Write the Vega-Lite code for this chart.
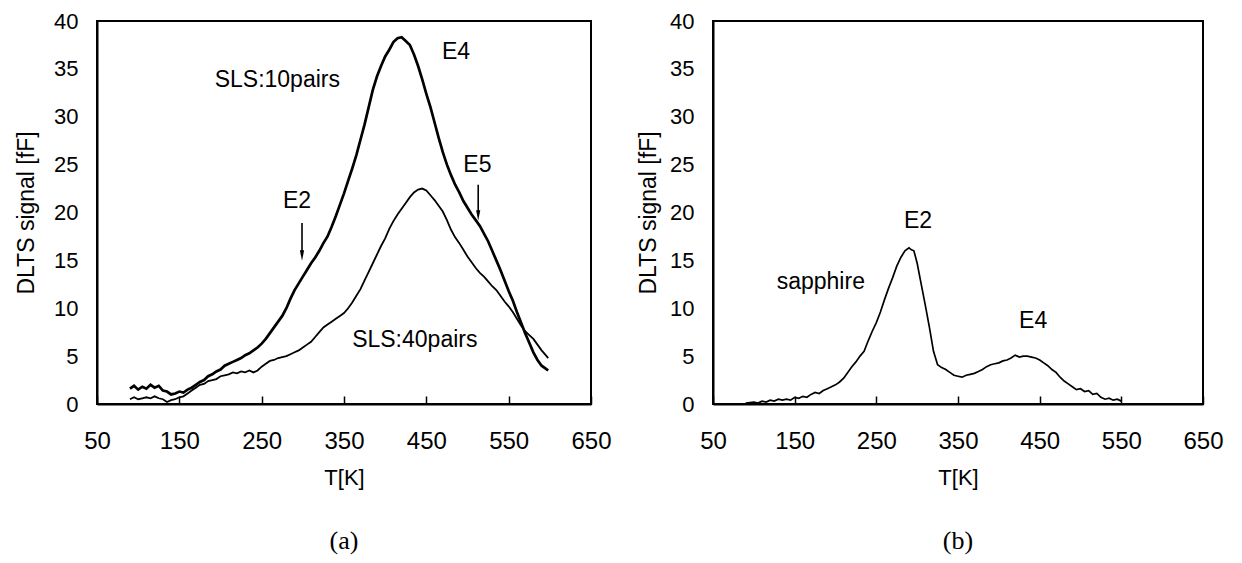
{
  "$schema": "https://vega.github.io/schema/vega-lite/v6.json",
  "background": "white",
  "padding": {"left": 14, "top": 9, "right": 10, "bottom": 5},
  "config": {
    "font": "Liberation Sans",
    "view": {"stroke": "black", "strokeWidth": 2},
    "axis": {"domainColor": "black", "domainWidth": 2, "labelColor": "black", "titleColor": "black", "titleFontWeight": "normal", "grid": false},
    "concat": {"spacing": 23}
  },
  "datasets": {
    "left": [
      {"T": 90, "v": 1.6, "s": "10pairs"}, {"T": 95, "v": 1.9, "s": "10pairs"}, {"T": 100, "v": 1.5, "s": "10pairs"}, {"T": 105, "v": 1.8, "s": "10pairs"}, {"T": 110, "v": 1.6, "s": "10pairs"}, {"T": 115, "v": 2.0, "s": "10pairs"}, {"T": 120, "v": 1.7, "s": "10pairs"}, {"T": 125, "v": 1.9, "s": "10pairs"}, {"T": 130, "v": 1.4, "s": "10pairs"}, {"T": 135, "v": 1.3, "s": "10pairs"}, {"T": 140, "v": 1.0, "s": "10pairs"}, {"T": 145, "v": 1.1, "s": "10pairs"}, {"T": 150, "v": 1.3, "s": "10pairs"}, {"T": 155, "v": 1.2, "s": "10pairs"}, {"T": 160, "v": 1.5, "s": "10pairs"}, {"T": 165, "v": 1.7, "s": "10pairs"}, {"T": 170, "v": 2.0, "s": "10pairs"}, {"T": 175, "v": 2.3, "s": "10pairs"}, {"T": 180, "v": 2.5, "s": "10pairs"}, {"T": 185, "v": 2.9, "s": "10pairs"}, {"T": 190, "v": 3.1, "s": "10pairs"}, {"T": 195, "v": 3.4, "s": "10pairs"}, {"T": 200, "v": 3.6, "s": "10pairs"}, {"T": 205, "v": 4.0, "s": "10pairs"}, {"T": 210, "v": 4.2, "s": "10pairs"}, {"T": 215, "v": 4.4, "s": "10pairs"}, {"T": 220, "v": 4.6, "s": "10pairs"}, {"T": 225, "v": 4.8, "s": "10pairs"}, {"T": 230, "v": 5.1, "s": "10pairs"}, {"T": 235, "v": 5.3, "s": "10pairs"}, {"T": 240, "v": 5.6, "s": "10pairs"}, {"T": 245, "v": 5.9, "s": "10pairs"}, {"T": 250, "v": 6.3, "s": "10pairs"}, {"T": 255, "v": 6.8, "s": "10pairs"}, {"T": 260, "v": 7.4, "s": "10pairs"}, {"T": 265, "v": 8.0, "s": "10pairs"}, {"T": 270, "v": 8.6, "s": "10pairs"}, {"T": 275, "v": 9.2, "s": "10pairs"}, {"T": 280, "v": 10.0, "s": "10pairs"}, {"T": 285, "v": 11.0, "s": "10pairs"}, {"T": 290, "v": 11.9, "s": "10pairs"}, {"T": 295, "v": 12.6, "s": "10pairs"}, {"T": 300, "v": 13.3, "s": "10pairs"}, {"T": 305, "v": 14.0, "s": "10pairs"}, {"T": 310, "v": 14.7, "s": "10pairs"}, {"T": 315, "v": 15.3, "s": "10pairs"}, {"T": 320, "v": 16.0, "s": "10pairs"}, {"T": 325, "v": 16.8, "s": "10pairs"}, {"T": 330, "v": 17.5, "s": "10pairs"}, {"T": 335, "v": 18.5, "s": "10pairs"}, {"T": 340, "v": 19.6, "s": "10pairs"}, {"T": 345, "v": 20.8, "s": "10pairs"}, {"T": 350, "v": 22.0, "s": "10pairs"}, {"T": 355, "v": 23.3, "s": "10pairs"}, {"T": 360, "v": 24.6, "s": "10pairs"}, {"T": 365, "v": 26.0, "s": "10pairs"}, {"T": 370, "v": 27.6, "s": "10pairs"}, {"T": 375, "v": 29.2, "s": "10pairs"}, {"T": 380, "v": 31.0, "s": "10pairs"}, {"T": 385, "v": 32.8, "s": "10pairs"}, {"T": 390, "v": 34.2, "s": "10pairs"}, {"T": 395, "v": 35.3, "s": "10pairs"}, {"T": 400, "v": 36.3, "s": "10pairs"}, {"T": 405, "v": 37.0, "s": "10pairs"}, {"T": 410, "v": 37.8, "s": "10pairs"}, {"T": 415, "v": 38.2, "s": "10pairs"}, {"T": 420, "v": 38.3, "s": "10pairs"}, {"T": 425, "v": 37.9, "s": "10pairs"}, {"T": 430, "v": 37.5, "s": "10pairs"}, {"T": 435, "v": 36.5, "s": "10pairs"}, {"T": 440, "v": 35.3, "s": "10pairs"}, {"T": 445, "v": 33.9, "s": "10pairs"}, {"T": 450, "v": 32.4, "s": "10pairs"}, {"T": 455, "v": 31.0, "s": "10pairs"}, {"T": 460, "v": 29.4, "s": "10pairs"}, {"T": 465, "v": 27.8, "s": "10pairs"}, {"T": 470, "v": 26.3, "s": "10pairs"}, {"T": 475, "v": 25.0, "s": "10pairs"}, {"T": 480, "v": 23.9, "s": "10pairs"}, {"T": 485, "v": 22.9, "s": "10pairs"}, {"T": 490, "v": 22.1, "s": "10pairs"}, {"T": 495, "v": 21.2, "s": "10pairs"}, {"T": 500, "v": 20.5, "s": "10pairs"}, {"T": 505, "v": 19.8, "s": "10pairs"}, {"T": 510, "v": 19.2, "s": "10pairs"}, {"T": 515, "v": 18.6, "s": "10pairs"}, {"T": 520, "v": 17.8, "s": "10pairs"}, {"T": 525, "v": 17.0, "s": "10pairs"}, {"T": 530, "v": 16.0, "s": "10pairs"}, {"T": 535, "v": 15.0, "s": "10pairs"}, {"T": 540, "v": 14.0, "s": "10pairs"}, {"T": 545, "v": 12.9, "s": "10pairs"}, {"T": 550, "v": 11.8, "s": "10pairs"}, {"T": 555, "v": 10.8, "s": "10pairs"}, {"T": 560, "v": 9.6, "s": "10pairs"}, {"T": 565, "v": 8.5, "s": "10pairs"}, {"T": 570, "v": 7.4, "s": "10pairs"}, {"T": 575, "v": 6.4, "s": "10pairs"}, {"T": 580, "v": 5.4, "s": "10pairs"}, {"T": 585, "v": 4.6, "s": "10pairs"}, {"T": 590, "v": 4.0, "s": "10pairs"}, {"T": 595, "v": 3.7, "s": "10pairs"}, {"T": 598, "v": 3.5, "s": "10pairs"},
      {"T": 90, "v": 0.5, "s": "40pairs"}, {"T": 95, "v": 0.7, "s": "40pairs"}, {"T": 100, "v": 0.5, "s": "40pairs"}, {"T": 105, "v": 0.6, "s": "40pairs"}, {"T": 110, "v": 0.7, "s": "40pairs"}, {"T": 115, "v": 0.6, "s": "40pairs"}, {"T": 120, "v": 0.8, "s": "40pairs"}, {"T": 125, "v": 0.6, "s": "40pairs"}, {"T": 130, "v": 0.5, "s": "40pairs"}, {"T": 135, "v": 0.2, "s": "40pairs"}, {"T": 140, "v": 0.4, "s": "40pairs"}, {"T": 145, "v": 0.5, "s": "40pairs"}, {"T": 150, "v": 0.7, "s": "40pairs"}, {"T": 155, "v": 0.8, "s": "40pairs"}, {"T": 160, "v": 1.1, "s": "40pairs"}, {"T": 165, "v": 1.4, "s": "40pairs"}, {"T": 170, "v": 1.7, "s": "40pairs"}, {"T": 175, "v": 2.0, "s": "40pairs"}, {"T": 180, "v": 2.1, "s": "40pairs"}, {"T": 185, "v": 2.4, "s": "40pairs"}, {"T": 190, "v": 2.5, "s": "40pairs"}, {"T": 195, "v": 2.6, "s": "40pairs"}, {"T": 200, "v": 2.9, "s": "40pairs"}, {"T": 205, "v": 3.0, "s": "40pairs"}, {"T": 210, "v": 3.1, "s": "40pairs"}, {"T": 215, "v": 3.3, "s": "40pairs"}, {"T": 220, "v": 3.2, "s": "40pairs"}, {"T": 225, "v": 3.4, "s": "40pairs"}, {"T": 230, "v": 3.3, "s": "40pairs"}, {"T": 235, "v": 3.5, "s": "40pairs"}, {"T": 240, "v": 3.3, "s": "40pairs"}, {"T": 245, "v": 3.5, "s": "40pairs"}, {"T": 250, "v": 3.9, "s": "40pairs"}, {"T": 255, "v": 4.2, "s": "40pairs"}, {"T": 260, "v": 4.5, "s": "40pairs"}, {"T": 265, "v": 4.6, "s": "40pairs"}, {"T": 270, "v": 4.8, "s": "40pairs"}, {"T": 275, "v": 4.9, "s": "40pairs"}, {"T": 280, "v": 5.0, "s": "40pairs"}, {"T": 285, "v": 5.2, "s": "40pairs"}, {"T": 290, "v": 5.4, "s": "40pairs"}, {"T": 295, "v": 5.6, "s": "40pairs"}, {"T": 300, "v": 5.9, "s": "40pairs"}, {"T": 305, "v": 6.2, "s": "40pairs"}, {"T": 310, "v": 6.5, "s": "40pairs"}, {"T": 315, "v": 7.0, "s": "40pairs"}, {"T": 320, "v": 7.5, "s": "40pairs"}, {"T": 325, "v": 8.0, "s": "40pairs"}, {"T": 330, "v": 8.3, "s": "40pairs"}, {"T": 335, "v": 8.6, "s": "40pairs"}, {"T": 340, "v": 8.9, "s": "40pairs"}, {"T": 345, "v": 9.2, "s": "40pairs"}, {"T": 350, "v": 9.5, "s": "40pairs"}, {"T": 355, "v": 10.0, "s": "40pairs"}, {"T": 360, "v": 10.6, "s": "40pairs"}, {"T": 365, "v": 11.3, "s": "40pairs"}, {"T": 370, "v": 12.0, "s": "40pairs"}, {"T": 375, "v": 12.9, "s": "40pairs"}, {"T": 380, "v": 13.8, "s": "40pairs"}, {"T": 385, "v": 14.7, "s": "40pairs"}, {"T": 390, "v": 15.6, "s": "40pairs"}, {"T": 395, "v": 16.5, "s": "40pairs"}, {"T": 400, "v": 17.3, "s": "40pairs"}, {"T": 405, "v": 18.3, "s": "40pairs"}, {"T": 410, "v": 19.1, "s": "40pairs"}, {"T": 415, "v": 19.8, "s": "40pairs"}, {"T": 420, "v": 20.4, "s": "40pairs"}, {"T": 425, "v": 21.0, "s": "40pairs"}, {"T": 430, "v": 21.6, "s": "40pairs"}, {"T": 435, "v": 22.1, "s": "40pairs"}, {"T": 440, "v": 22.4, "s": "40pairs"}, {"T": 445, "v": 22.5, "s": "40pairs"}, {"T": 450, "v": 22.3, "s": "40pairs"}, {"T": 455, "v": 21.8, "s": "40pairs"}, {"T": 460, "v": 21.3, "s": "40pairs"}, {"T": 465, "v": 20.7, "s": "40pairs"}, {"T": 470, "v": 20.1, "s": "40pairs"}, {"T": 475, "v": 19.2, "s": "40pairs"}, {"T": 480, "v": 18.2, "s": "40pairs"}, {"T": 485, "v": 17.4, "s": "40pairs"}, {"T": 490, "v": 16.8, "s": "40pairs"}, {"T": 495, "v": 16.1, "s": "40pairs"}, {"T": 500, "v": 15.4, "s": "40pairs"}, {"T": 505, "v": 14.8, "s": "40pairs"}, {"T": 510, "v": 14.2, "s": "40pairs"}, {"T": 515, "v": 13.7, "s": "40pairs"}, {"T": 520, "v": 13.3, "s": "40pairs"}, {"T": 525, "v": 12.8, "s": "40pairs"}, {"T": 530, "v": 12.3, "s": "40pairs"}, {"T": 535, "v": 11.9, "s": "40pairs"}, {"T": 540, "v": 11.3, "s": "40pairs"}, {"T": 545, "v": 10.7, "s": "40pairs"}, {"T": 550, "v": 10.2, "s": "40pairs"}, {"T": 555, "v": 9.6, "s": "40pairs"}, {"T": 560, "v": 8.9, "s": "40pairs"}, {"T": 565, "v": 8.2, "s": "40pairs"}, {"T": 570, "v": 7.6, "s": "40pairs"}, {"T": 575, "v": 7.2, "s": "40pairs"}, {"T": 580, "v": 6.8, "s": "40pairs"}, {"T": 585, "v": 6.2, "s": "40pairs"}, {"T": 590, "v": 5.6, "s": "40pairs"}, {"T": 595, "v": 5.1, "s": "40pairs"}, {"T": 598, "v": 4.8, "s": "40pairs"}
    ],
    "right": [
      {"T": 90, "v": 0.1}, {"T": 100, "v": 0.2}, {"T": 105, "v": 0.1}, {"T": 110, "v": 0.3}, {"T": 115, "v": 0.2}, {"T": 120, "v": 0.4}, {"T": 125, "v": 0.3}, {"T": 130, "v": 0.5}, {"T": 135, "v": 0.4}, {"T": 140, "v": 0.5}, {"T": 145, "v": 0.4}, {"T": 150, "v": 0.7}, {"T": 155, "v": 0.6}, {"T": 160, "v": 0.8}, {"T": 165, "v": 0.7}, {"T": 170, "v": 1.0}, {"T": 175, "v": 1.2}, {"T": 180, "v": 1.1}, {"T": 185, "v": 1.4}, {"T": 190, "v": 1.6}, {"T": 195, "v": 1.8}, {"T": 200, "v": 2.0}, {"T": 205, "v": 2.3}, {"T": 210, "v": 2.7}, {"T": 215, "v": 3.3}, {"T": 220, "v": 3.9}, {"T": 225, "v": 4.4}, {"T": 230, "v": 5.0}, {"T": 235, "v": 5.5}, {"T": 240, "v": 6.6}, {"T": 245, "v": 7.6}, {"T": 250, "v": 8.5}, {"T": 255, "v": 9.6}, {"T": 260, "v": 10.9}, {"T": 265, "v": 12.1}, {"T": 270, "v": 13.2}, {"T": 275, "v": 14.4}, {"T": 280, "v": 15.3}, {"T": 285, "v": 16.0}, {"T": 290, "v": 16.3}, {"T": 293, "v": 16.1}, {"T": 296, "v": 16.0}, {"T": 300, "v": 14.7}, {"T": 305, "v": 12.5}, {"T": 310, "v": 10.3}, {"T": 315, "v": 8.0}, {"T": 320, "v": 5.5}, {"T": 325, "v": 4.1}, {"T": 330, "v": 3.8}, {"T": 335, "v": 3.6}, {"T": 340, "v": 3.3}, {"T": 345, "v": 3.0}, {"T": 350, "v": 2.9}, {"T": 355, "v": 2.8}, {"T": 360, "v": 3.0}, {"T": 365, "v": 3.1}, {"T": 370, "v": 3.2}, {"T": 375, "v": 3.4}, {"T": 380, "v": 3.6}, {"T": 385, "v": 3.9}, {"T": 390, "v": 4.1}, {"T": 395, "v": 4.2}, {"T": 400, "v": 4.3}, {"T": 405, "v": 4.5}, {"T": 410, "v": 4.6}, {"T": 415, "v": 4.8}, {"T": 420, "v": 5.1}, {"T": 425, "v": 4.9}, {"T": 430, "v": 5.0}, {"T": 435, "v": 5.0}, {"T": 440, "v": 4.9}, {"T": 445, "v": 4.8}, {"T": 450, "v": 4.6}, {"T": 455, "v": 4.3}, {"T": 460, "v": 4.0}, {"T": 465, "v": 3.6}, {"T": 470, "v": 3.3}, {"T": 475, "v": 2.8}, {"T": 480, "v": 2.4}, {"T": 485, "v": 2.1}, {"T": 490, "v": 1.8}, {"T": 495, "v": 1.5}, {"T": 500, "v": 1.6}, {"T": 505, "v": 1.3}, {"T": 510, "v": 1.4}, {"T": 515, "v": 1.0}, {"T": 520, "v": 1.1}, {"T": 525, "v": 0.7}, {"T": 530, "v": 0.5}, {"T": 535, "v": 0.6}, {"T": 540, "v": 0.4}, {"T": 545, "v": 0.5}, {"T": 550, "v": 0.3}
    ],
    "leftText": [
      {"T": 486, "v": 36.8, "label": "E4"},
      {"T": 269, "v": 33.8, "label": "SLS:10pairs"},
      {"T": 293, "v": 21.2, "label": "E2"},
      {"T": 512, "v": 25.0, "label": "E5"},
      {"T": 436, "v": 6.65, "label": "SLS:40pairs"}
    ],
    "rightText": [
      {"T": 301, "v": 19.1, "label": "E2"},
      {"T": 182, "v": 12.7, "label": "sapphire"},
      {"T": 442, "v": 8.7, "label": "E4"}
    ],
    "arrows": [
      {"T": 299, "top": 18.9, "head": 15.5},
      {"T": 513, "top": 22.9, "head": 19.7}
    ]
  },
  "hconcat": [
    {
      "width": 494,
      "height": 383,
      "title": {"text": "(a)", "orient": "bottom", "font": "Liberation Serif", "fontSize": 26, "fontWeight": "normal", "offset": 40, "frame": "group"},
      "layer": [
        {
          "data": {"name": "left"},
          "mark": {"type": "line", "color": "black"},
          "encoding": {
            "x": {"field": "T", "type": "quantitative", "scale": {"domain": [50, 650], "nice": false, "zero": false},
              "axis": {"title": "T[K]", "values": [50, 150, 250, 350, 450, 550, 650], "labelFontSize": 24, "titleFontSize": 22, "tickSize": -8, "tickColor": "black", "tickWidth": 1.5, "labelPadding": 33, "titlePadding": 14, "labelFlush": false}},
            "y": {"field": "v", "type": "quantitative", "scale": {"domain": [0, 40], "nice": false},
              "axis": {"title": "DLTS signal [fF]", "values": [0, 5, 10, 15, 20, 25, 30, 35, 40], "ticks": false, "labelFontSize": 22, "titleFontSize": 23, "labelPadding": 19, "titlePadding": 15, "labelFlush": false}},
            "detail": {"field": "s"},
            "strokeWidth": {"field": "s", "type": "nominal", "scale": {"domain": ["10pairs", "40pairs"], "range": [2.7, 1.8]}, "legend": null}
          }
        },
        {
          "data": {"name": "leftText"},
          "mark": {"type": "text", "fontSize": 23, "color": "black", "align": "center", "baseline": "middle"},
          "encoding": {
            "x": {"field": "T", "type": "quantitative"},
            "y": {"field": "v", "type": "quantitative"},
            "text": {"field": "label"}
          }
        },
        {
          "data": {"name": "arrows"},
          "mark": {"type": "rule", "color": "black", "strokeWidth": 1.6},
          "encoding": {
            "x": {"field": "T", "type": "quantitative"},
            "y": {"field": "top", "type": "quantitative"},
            "y2": {"field": "head"}
          }
        },
        {
          "data": {"name": "arrows"},
          "mark": {"type": "point", "shape": "M -0.4 -1 L 0.4 -1 L 0 1 Z", "filled": true, "color": "black", "size": 110, "opacity": 1},
          "encoding": {
            "x": {"field": "T", "type": "quantitative"},
            "y": {"field": "head", "type": "quantitative"}
          }
        }
      ]
    },
    {
      "width": 490,
      "height": 383,
      "title": {"text": "(b)", "orient": "bottom", "font": "Liberation Serif", "fontSize": 26, "fontWeight": "normal", "offset": 40, "frame": "group"},
      "layer": [
        {
          "data": {"name": "right"},
          "mark": {"type": "line", "color": "black", "strokeWidth": 1.7},
          "encoding": {
            "x": {"field": "T", "type": "quantitative", "scale": {"domain": [50, 650], "nice": false, "zero": false},
              "axis": {"title": "T[K]", "values": [50, 150, 250, 350, 450, 550, 650], "labelFontSize": 24, "titleFontSize": 22, "tickSize": -8, "tickColor": "black", "tickWidth": 1.5, "labelPadding": 33, "titlePadding": 14, "labelFlush": false}},
            "y": {"field": "v", "type": "quantitative", "scale": {"domain": [0, 40], "nice": false},
              "axis": {"title": "DLTS signal [fF]", "values": [0, 5, 10, 15, 20, 25, 30, 35, 40], "ticks": false, "labelFontSize": 22, "titleFontSize": 23, "labelPadding": 19, "titlePadding": 9, "labelFlush": false}}
          }
        },
        {
          "data": {"name": "rightText"},
          "mark": {"type": "text", "fontSize": 23, "color": "black", "align": "center", "baseline": "middle"},
          "encoding": {
            "x": {"field": "T", "type": "quantitative"},
            "y": {"field": "v", "type": "quantitative"},
            "text": {"field": "label"}
          }
        }
      ]
    }
  ]
}
